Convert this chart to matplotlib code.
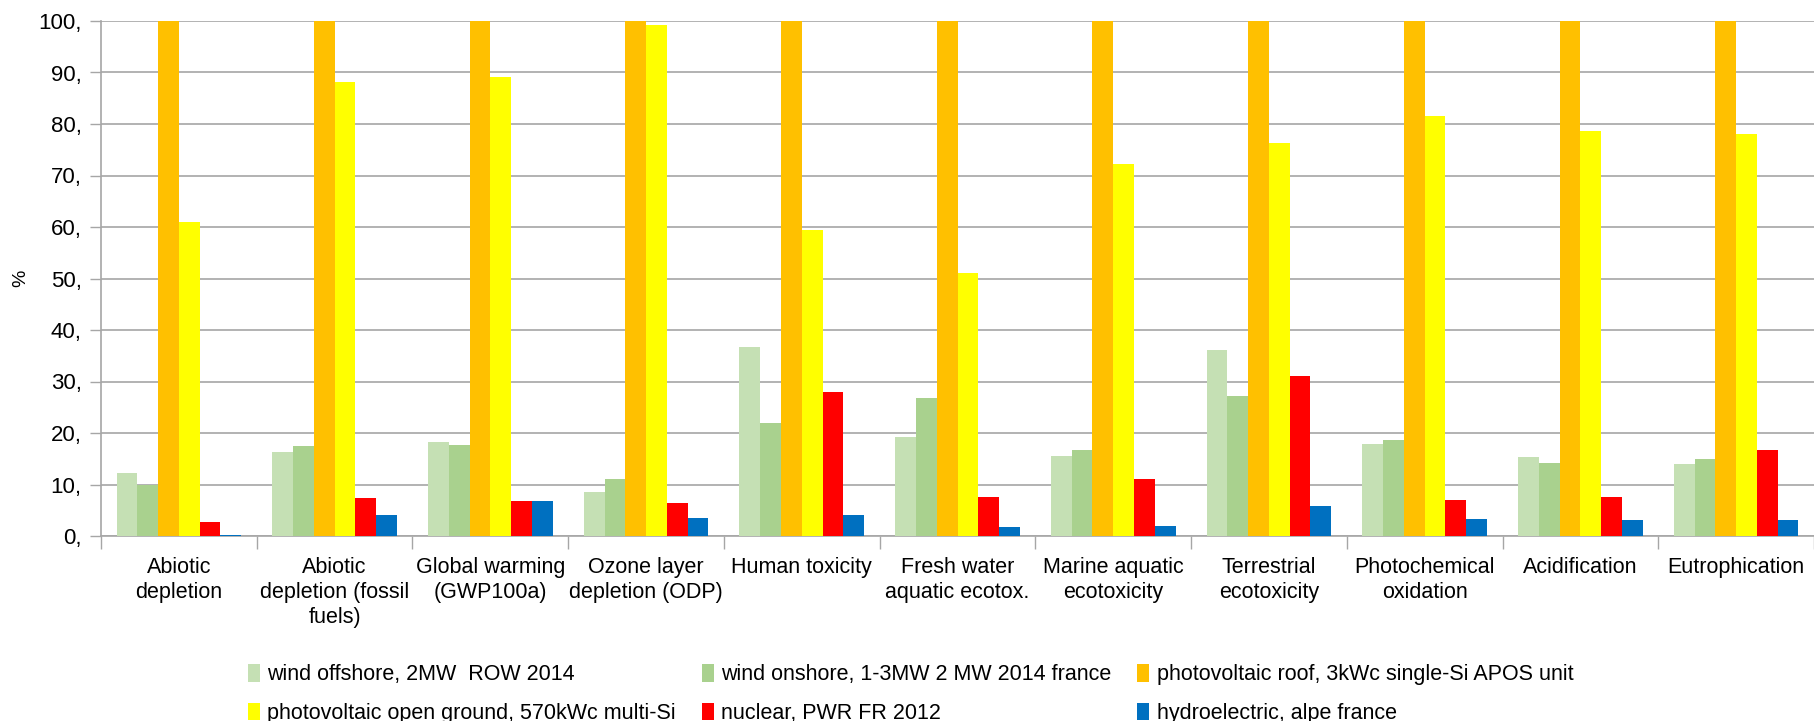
import numpy as np
import matplotlib
matplotlib.use("Agg")
import matplotlib.pyplot as plt
from matplotlib.ticker import FixedLocator, FuncFormatter

plt.rcParams['font.family'] = ['Liberation Sans Narrow', 'Liberation Sans', 'DejaVu Sans']

#%% Data
categories = ["Abiotic\ndepletion", "Abiotic\ndepletion (fossil\nfuels)",
              "Global warming\n(GWP100a)", "Ozone layer\ndepletion (ODP)",
              "Human toxicity", "Fresh water\naquatic ecotox.",
              "Marine aquatic\necotoxicity", "Terrestrial\necotoxicity",
              "Photochemical\noxidation", "Acidification", "Eutrophication"]

series_names = ["wind offshore, 2MW  ROW 2014",
                "wind onshore, 1-3MW 2 MW 2014 france",
                "photovoltaic roof, 3kWc single-Si APOS unit",
                "photovoltaic open ground, 570kWc multi-Si",
                "nuclear, PWR FR 2012",
                "hydroelectric, alpe france"]

wind_offshore = [12.2, 16.3, 18.2, 8.5, 36.7, 19.2, 15.6, 36.1, 17.8, 15.4, 14.0]
wind_onshore  = [9.9, 17.4, 17.6, 11.1, 22.0, 26.7, 16.7, 27.2, 18.7, 14.2, 15.0]
pv_roof       = [100, 100, 100, 100, 100, 100, 100, 100, 100, 100, 100]
pv_ground     = [60.9, 88.2, 89.1, 99.2, 59.5, 51.0, 72.3, 76.3, 81.6, 78.7, 78.1]
nuclear       = [2.7, 7.3, 6.8, 6.5, 27.9, 7.6, 11.1, 31.0, 6.9, 7.6, 16.7]
hydro         = [0.2, 4.05, 6.8, 3.5, 4.05, 1.8, 1.9, 5.75, 3.3, 3.1, 3.1]

colors = ['#C5E0B4', '#A9D18E', '#FFC000', '#FFFF00', '#FF0000', '#0070C0']

#%% Figure
fig = plt.figure(figsize=(18.14, 7.21), dpi=100)
ax = fig.add_axes([101/1814, 1-536/721, 1-101/1814, (536-21)/721])

series = [wind_offshore, wind_onshore, pv_roof, pv_ground, nuclear, hydro]
x = np.arange(len(categories))
width = 0.8/len(series)
bars = []
for k, vals in enumerate(series):
    b = ax.bar(x - 0.4 + width*(k+0.5), vals, width, color=colors[k],
               label=series_names[k], zorder=3)
    bars.append(b)

#### Axes
ax.set_xlim(-0.5, len(categories)-0.5)
ax.set_ylim(0, 100)
ax.set_yticks(np.arange(0, 101, 10))
ax.yaxis.set_major_formatter(FuncFormatter(lambda v, p: f"{int(v)},"))
ax.yaxis.grid(True, color='#A6A6A6', linewidth=1.2, zorder=0)
ax.set_axisbelow(True)

ax.set_xticks(x)
ax.set_xticklabels(categories, linespacing=1.25)
ax.xaxis.set_minor_locator(FixedLocator(np.arange(-0.5, len(categories), 1.0)))
ax.tick_params(axis='x', which='major', length=0, pad=15, labelsize=15.5)
ax.tick_params(axis='x', which='minor', length=9, color='#A6A6A6', width=1)
ax.tick_params(axis='y', length=8, color='#A6A6A6', width=1, labelsize=16, pad=6)

for s in ['top', 'right']:
    ax.spines[s].set_visible(False)
ax.spines['left'].set_color('#A6A6A6')
ax.spines['bottom'].set_color('#A6A6A6')
ax.spines['left'].set_linewidth(1.2)
ax.spines['bottom'].set_linewidth(1.2)

ax.set_ylabel('%', fontsize=14)
ax.yaxis.set_label_coords(-0.042, 0.5)

#### Legend (row-major order)
order = [0, 3, 1, 4, 2, 5]
fig.legend([bars[i] for i in order], [series_names[i] for i in order],
           loc='upper left', bbox_to_anchor=(248/1814, 1-664/721), ncol=3,
           frameon=False, fontsize=15.5, handlelength=0.55, handleheight=0.9,
           handletextpad=0.35, columnspacing=1.2, labelspacing=0.8,
           borderaxespad=0, borderpad=0)

fig.savefig('out.png', dpi=100)
